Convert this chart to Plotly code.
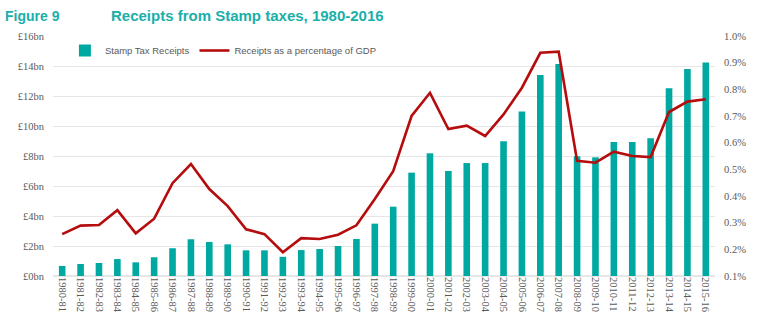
import plotly.graph_objects as go

categories = ["1980-81","1981-82","1982-83","1983-84","1984-85","1985-86","1986-87","1987-88",
              "1988-89","1989-90","1990-91","1991-92","1992-93","1993-94","1994-95","1995-96",
              "1996-97","1997-98","1998-99","1999-00","2000-01","2001-02","2002-03","2003-04",
              "2004-05","2005-06","2006-07","2007-08","2008-09","2009-10","2010-11","2011-12",
              "2012-13","2013-14","2014-15","2015-16"]

receipts_bn = [0.67, 0.80, 0.87, 1.13, 0.91, 1.25, 1.85, 2.45,
               2.27, 2.11, 1.71, 1.71, 1.28, 1.73, 1.80, 2.00,
               2.47, 3.49, 4.62, 6.89, 8.18, 7.00, 7.53, 7.53,
               8.98, 10.96, 13.40, 14.13, 7.98, 7.91, 8.93, 8.93,
               9.18, 12.51, 13.80, 14.24]

pct_gdp = [0.257, 0.289, 0.291, 0.347, 0.260, 0.315, 0.448, 0.520,
           0.426, 0.362, 0.275, 0.257, 0.189, 0.242, 0.239, 0.255,
           0.290, 0.389, 0.493, 0.700, 0.787, 0.651, 0.664, 0.625,
           0.706, 0.806, 0.937, 0.941, 0.532, 0.525, 0.566, 0.550,
           0.546, 0.715, 0.754, 0.763]

TEAL = "#00A8A2"
RED = "#B50D0D"
GREY = "#595959"
TITLE = "#1AAFAA"

fig = go.Figure()
fig.add_trace(go.Bar(x=categories, y=receipts_bn, name="Stamp Tax Receipts",
                     marker=dict(color=TEAL, line=dict(width=0)), yaxis="y"))
fig.add_trace(go.Scatter(x=categories, y=pct_gdp, name="Receipts as a percentage of GDP",
                         mode="lines", line=dict(color=RED, width=2.6), yaxis="y2"))

tickfont = dict(family="Liberation Serif", size=10.5, color=GREY)

fig.update_layout(
    width=762, height=322,
    margin=dict(l=53, r=47, t=36, b=46),
    paper_bgcolor="white", plot_bgcolor="white",
    bargap=0.64,
    showlegend=True,
    legend=dict(orientation="h", x=0.018, y=1.0, xanchor="left", yanchor="top",
                font=dict(family="Liberation Sans", size=9.5, color=GREY),
                bgcolor="rgba(0,0,0,0)", itemwidth=30, tracegroupgap=0),
    xaxis=dict(type="category", tickangle=90, tickfont=tickfont, showgrid=False,
               showline=False, ticks="", ticklen=0, automargin=False),
    yaxis=dict(range=[0, 16], dtick=2, tick0=0, tickprefix="£", ticksuffix="bn",
               tickfont=tickfont, showgrid=True, gridcolor="#E6E6E6", gridwidth=1,
               zeroline=True, zerolinecolor="#E6E6E6", showline=False, ticks="",
               ticklabelstandoff=8, automargin=False),
    yaxis2=dict(range=[0.1, 1.0], dtick=0.1, tick0=0.1, tickformat=".1f", ticksuffix="%",
                overlaying="y", side="right", tickfont=tickfont, showgrid=False,
                zeroline=False, showline=False, ticks="", ticklabelstandoff=8, automargin=False),
    annotations=[
        dict(text="<b>Figure 9</b>", xref="paper", yref="paper", x=-0.075, y=1.0,
             xanchor="left", yanchor="bottom", yshift=10, showarrow=False,
             font=dict(family="Liberation Sans", size=14, color=TITLE)),
        dict(text="<b>Receipts from Stamp taxes, 1980-2016</b>", xref="paper", yref="paper",
             x=0.084, y=1.0, xanchor="left", yanchor="bottom", yshift=10, showarrow=False,
             font=dict(family="Liberation Sans", size=15, color=TITLE)),
    ],
)

fig.write_html("out.html")
